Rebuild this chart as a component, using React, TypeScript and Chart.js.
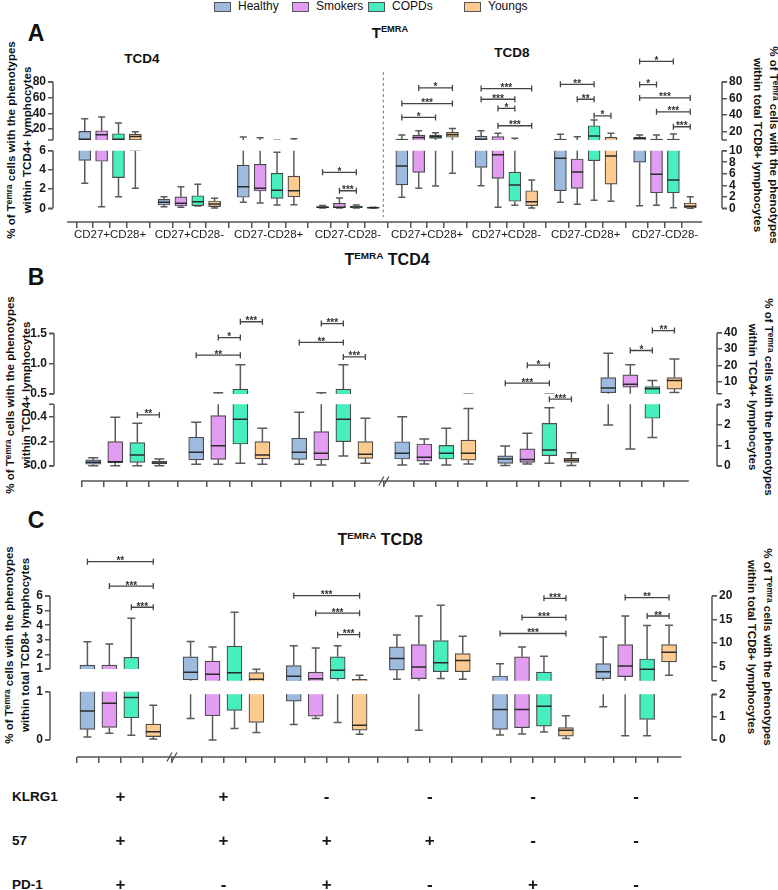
import React, { useEffect, useRef } from 'react';
import { Chart, registerables } from 'chart.js';

Chart.register(...registerables);

const FONT = "'Liberation Sans', Arial, Helvetica, sans-serif";
const NARROW = "'Liberation Sans Narrow', 'Liberation Sans', Arial, sans-serif";
const W = 778;

const seriesNames = ['Healthy', 'Smokers', 'COPDs', 'Youngs'];
const seriesFills = ['#9dbadf', '#e29cf1', '#47efbf', '#fdca8f'];

// ---------------- Panel A : TEMRA (TCD4 on left axis, TCD8 on right axis) ----------------
// each box: [min, q1, median, q3, max]
const groupsA = ['CD27+CD28+', 'CD27+CD28-', 'CD27-CD28+', 'CD27-CD28-', 'CD27+CD28+', 'CD27+CD28-', 'CD27-CD28+', 'CD27-CD28-'];
const sidesA = ['L', 'L', 'L', 'L', 'R', 'R', 'R', 'R'];
const healthyA = [
  [2.6, 5.0, 7, 17, 33], [0.17, 0.34, 0.62, 0.94, 1.2], [0.62, 1.15, 2.25, 4.5, 9.7], [0.02, 0.05, 0.1, 0.17, 0.3],
  [1.9, 4.05, 7.34, 11, 16], [3.9, 7.1, 11, 14.8, 21.2], [1.04, 3.05, 8.7, 11, 16.9], [0.45, 8.0, 12, 13.3, 16],
];
const smokersA = [
  [0.17, 4.9, 12.7, 17.8, 35.5], [0.1, 0.24, 0.52, 1.2, 2.25], [0.55, 1.8, 2.08, 4.58, 8.8], [0.03, 0.05, 0.1, 0.52, 1.07],
  [3.47, 6.25, 13, 16, 21.2], [0.17, 5.2, 9.3, 14, 18], [0.69, 3.47, 6.3, 8.56, 14], [0.52, 2.7, 5.9, 11, 16],
];
const copdsA = [
  [1.2, 3.2, 7, 14, 27.7], [0.24, 0.27, 0.69, 1.31, 2.5], [0.34, 1.04, 1.87, 3.65, 5.83], [0.03, 0.07, 0.14, 0.24, 0.34],
  [3.87, 12, 14, 16, 18.8], [0.52, 1.22, 4.05, 6.3, 12], [1.39, 8.27, 14.8, 27.2, 34], [0.1, 2.7, 4.9, 11, 17.2],
];
const youngsA = [
  [2.1, 6.0, 10.5, 13.6, 16.6], [0.03, 0.17, 0.45, 0.76, 1.04], [0.36, 1.2, 1.82, 3.36, 7.5], [0.02, 0.04, 0.06, 0.09, 0.12],
  [6.07, 13.3, 16.4, 19.3, 24], [0.05, 0.45, 1.15, 3.05, 4.9], [1.22, 4.2, 9.1, 13.3, 18], [0, 0.05, 0.35, 0.92, 2.0],
];
// [group, fromSeries, toSeries, level, stars, segment]
const sigA = [
  [3, 0, 2, 3.75, '*', 'bot'], [3, 1, 2, 1.83, '***', 'bot'],
  [4, 1, 3, 72.8, '*', 'top'], [4, 0, 3, 54, '***', 'top'], [4, 0, 2, 37.3, '*', 'top'],
  [5, 0, 3, 72.1, '***', 'top'], [5, 0, 2, 59.2, '***', 'top'], [5, 1, 2, 48.1, '*', 'top'], [5, 1, 3, 27.2, '***', 'top'],
  [6, 0, 2, 77.2, '**', 'top'], [6, 1, 2, 59.2, '**', 'top'], [6, 2, 3, 39.2, '*', 'top'],
  [7, 0, 2, 104.8, '*', 'top'], [7, 0, 1, 76.9, '*', 'top'], [7, 0, 3, 60.8, '***', 'top'], [7, 1, 3, 44, '***', 'top'], [7, 2, 3, 26, '***', 'top'],
];
const ticksALeftTop = [20, 40, 60, 80];
const ticksALeftBot = [0, 2, 4, 6];
const ticksARightTop = [20, 40, 60, 80];
const ticksARightBot = [0, 2, 4, 6, 8, 10];

// ---------------- Panel B : TEMRA TCD4 subsets ----------------
const sidesB = ['L', 'L', 'L', 'R', 'R', 'R'];
const healthyB = [
  [0.003, 0.014, 0.03, 0.049, 0.067], [0.014, 0.049, 0.111, 0.233, 0.354], [0.014, 0.054, 0.111, 0.225, 0.435],
  [0.05, 0.34, 0.62, 1.18, 2.39], [0.02, 0.13, 0.34, 0.49, 0.97], [1.99, 3.6, 6.4, 12.8, 27.6],
];
const smokersB = [
  [0.003, 0.027, 0.035, 0.197, 0.395], [0.014, 0.054, 0.165, 0.408, 0.52], [0.008, 0.049, 0.103, 0.278, 0.52],
  [0.1, 0.24, 0.42, 1.07, 1.31], [0.1, 0.18, 0.32, 0.83, 1.59], [0.83, 7, 8.8, 14.4, 20.5],
];
const copdsB = [
  [0.003, 0.03, 0.089, 0.19, 0.346], [0.022, 0.178, 0.379, 0.58, 0.98], [0.081, 0.197, 0.379, 0.58, 0.98],
  [0.05, 0.34, 0.62, 1.0, 1.83], [0.13, 0.5, 0.78, 2.07, 2.83], [1.39, 2.32, 6, 7.3, 11],
];
const youngsB = [
  [0.003, 0.016, 0.024, 0.038, 0.057], [0.014, 0.057, 0.089, 0.197, 0.306], [0.022, 0.062, 0.095, 0.197, 0.387],
  [0.1, 0.28, 0.62, 1.26, 2.8], [0.02, 0.18, 0.28, 0.37, 0.65], [3.8, 5.8, 11, 12.8, 24],
];
const sigB = [
  [0, 2, 3, 0.414, '**', 'bot'],
  [1, 0, 2, 1.14, '**', 'top'], [1, 1, 2, 1.43, '*', 'top'], [1, 2, 3, 1.69, '***', 'top'],
  [2, 0, 2, 1.35, '**', 'top'], [2, 1, 2, 1.66, '***', 'top'], [2, 2, 3, 1.11, '***', 'top'],
  [4, 1, 2, 20.3, '*', 'top'], [4, 0, 2, 9.4, '***', 'top'], [4, 2, 3, 3.25, '***', 'bot'],
  [5, 1, 2, 29.2, '*', 'top'], [5, 2, 3, 41.3, '**', 'top'],
];
const ticksBLeftTop = [0.5, 1.0, 1.5];
const ticksBLeftBot = [0, 0.2, 0.4];
const ticksBRightTop = [10, 20, 30, 40];
const ticksBRightBot = [0, 1, 2, 3];

// ---------------- Panel C : TEMRA TCD8 subsets ----------------
const sidesC = ['L', 'R', 'R', 'R', 'R', 'R'];
const healthyC = [
  [0.06, 0.22, 0.6, 1.27, 2.87], [0.94, 2.15, 3.8, 7.06, 10.3], [0.68, 1.7, 2.96, 5.2, 9.4],
  [2.3, 4.24, 6.7, 9.16, 11.7], [0.22, 0.46, 1.33, 3.0, 5.6], [1.45, 2.44, 3.9, 5.6, 11.26],
];
const smokersC = [
  [0.14, 0.26, 0.76, 1.27, 2.71], [0, 1.06, 3.34, 6.13, 9.16], [0.94, 1.04, 2.4, 3.8, 8.95],
  [0.43, 2.44, 4.9, 9.64, 15.7], [0.26, 0.54, 1.33, 7.06, 9.16], [0.19, 2.86, 5.1, 9.64, 15.7],
];
const copdsC = [
  [0.1, 0.46, 0.88, 1.8, 4.47], [0.5, 1.3, 3.7, 9.3, 16.5], [0.77, 2.4, 4.2, 7.06, 9.4],
  [2.44, 3.9, 5.8, 10.5, 18], [0.35, 0.61, 1.48, 3.8, 7.2], [0.19, 0.9, 4.4, 6.6, 13.7],
];
const youngsC = [
  [0.02, 0.07, 0.17, 0.33, 0.72], [0.33, 0.77, 2.3, 3.7, 4.4], [0.25, 0.43, 0.65, 2.3, 3.13],
  [2.3, 3.9, 6.3, 7.75, 11.4], [0.07, 0.17, 0.43, 0.54, 1.06], [3.13, 6.0, 8.0, 9.64, 13.75],
];
const sigC = [
  [0, 0, 3, 8.35, '**', 'top'], [0, 1, 3, 6.68, '***', 'top'], [0, 2, 3, 5.23, '***', 'top'],
  [2, 0, 3, 20, '***', 'top'], [2, 1, 3, 16.3, '***', 'top'], [2, 2, 3, 11.75, '***', 'top'],
  [4, 2, 3, 19.45, '***', 'top'], [4, 1, 3, 15.4, '***', 'top'], [4, 0, 3, 12, '***', 'top'],
  [5, 1, 3, 19.6, '**', 'top'], [5, 2, 3, 15.7, '**', 'top'],
];
const ticksCLeftTop = [1, 2, 3, 4, 5, 6];
const ticksCLeftBot = [0, 1];
const ticksCRightTop = [5, 10, 15, 20];
const ticksCRightBot = [0, 1, 2];
const markerRows = ['KLRG1', '57', 'PD-1'];
const klrg1C = ['+', '+', '-', '-', '-', '-'];
const cd57C = ['+', '+', '+', '+', '-', '-'];
const pd1C = ['+', '-', '+', '-', '+', '-'];

// ---------------- layout (positions only) ----------------
// seg: [lowValue, highValue, pixelOfLow, pixelOfHigh] (page pixels)
const panelA: any = {
  top: 33, height: 217, chartTop: 45, axisY: 222, left: 53, right: 722,
  xFirst: 77, xLast: 698, step: 4.7, boxW: 12, capW: 7, lineFrom: -1.05, lineTo: 0.7,
  seg: { Ltop: [6, 80, 140, 82], Lbot: [0, 6, 208.3, 150.7], Rtop: [10, 80, 140, 82], Rbot: [0, 10, 208.3, 150.7] },
  ticks: { Ltop: ticksALeftTop, Lbot: ticksALeftBot, Rtop: ticksARightTop, Rbot: ticksARightBot },
  dec: { L: 0, R: 0 },
  sides: sidesA, data: [healthyA, smokersA, copdsA, youngsA], sig: sigA,
  xLabels: groupsA, xFont: { family: FONT, size: 11.5, lineHeight: 1 }, xPad: 1.5,
  breakAfter: null, divider: { afterGroup: 3, y0: 72, y1: 217 },
};
const panelB: any = {
  top: 293, height: 207, chartTop: 305, axisY: 481, left: 54, right: 717,
  xFirst: 80.5, xLast: 687, step: 4.67, boxW: 15, capW: 10, lineFrom: -0.55, lineTo: 0.65,
  seg: { Ltop: [0.5, 1.5, 394, 333.3], Lbot: [0, 0.5, 466, 404.3], Rtop: [3, 40, 393.7, 332.7], Rbot: [0, 3, 466, 404.3] },
  ticks: { Ltop: ticksBLeftTop, Lbot: ticksBLeftBot, Rtop: ticksBRightTop, Rbot: ticksBRightBot },
  dec: { L: 1, R: 0 },
  sides: sidesB, data: [healthyB, smokersB, copdsB, youngsB], sig: sigB,
  xLabels: null, xFont: { family: FONT, size: 11 }, xPad: 0,
  breakAfter: 2, divider: null,
};
const panelC: any = {
  top: 538, height: 352, chartTop: 550, axisY: 757, left: 50, right: 712,
  xFirst: 77.3, xLast: 679, step: 4.7, boxW: 15, capW: 8, lineFrom: -0.47, lineTo: 0.56,
  seg: { Ltop: [1, 6, 669, 596], Lbot: [0, 1, 740, 691.7], Rtop: [2, 20, 680.7, 595.7], Rbot: [0, 2, 740, 694.3] },
  ticks: { Ltop: ticksCLeftTop, Lbot: ticksCLeftBot, Rtop: ticksCRightTop, Rbot: ticksCRightBot },
  dec: { L: 0, R: 0 },
  sides: sidesC, data: [healthyC, smokersC, copdsC, youngsC], sig: sigC,
  xLabels: klrg1C.map((k, i) => [k, cd57C[i], pd1C[i]]),
  xFont: { family: FONT, size: 17, weight: 'bold', lineHeight: '44px' }, xPad: 12,
  breakAfter: 0, divider: null,
};

// ---------------- drawing helpers ----------------
function clipRange(chart: any, P: any, side: string, key: string) {
  const ys = chart.scales['y' + side];
  const s = P.seg[side + key];
  const yLo = ys.getPixelForValue(s[0]);
  const yHi = ys.getPixelForValue(s[1]);
  return key === 'top' ? [0, yLo] : [yHi, chart.chartArea.bottom];
}

function eachBox(chart: any, P: any, key: string, fn: any) {
  const xs = chart.scales.x;
  const ctx = chart.ctx;
  for (let s = 0; s < 4; s++) {
    for (let g = 0; g < P.sides.length; g++) {
      const side = P.sides[g];
      const ys = chart.scales['y' + side];
      const [c0, c1] = clipRange(chart, P, side, key);
      ctx.save();
      ctx.beginPath();
      ctx.rect(0, c0, chart.width, c1 - c0);
      ctx.clip();
      fn(ctx, xs.getPixelForValue(g * P.step + s), (v: number) => ys.getPixelForValue(v), P.data[s][g]);
      ctx.restore();
    }
  }
}

function drawWhiskers(chart: any, P: any, key: string) {
  eachBox(chart, P, key, (ctx: any, x: number, py: any, b: number[]) => {
    const c = P.capW / 2;
    ctx.strokeStyle = '#5a5a5a';
    ctx.lineWidth = 1.5;
    ctx.beginPath();
    ctx.moveTo(x, py(b[3])); ctx.lineTo(x, py(b[4]));
    ctx.moveTo(x - c, py(b[4])); ctx.lineTo(x + c, py(b[4]));
    ctx.moveTo(x, py(b[1])); ctx.lineTo(x, py(b[0]));
    ctx.moveTo(x - c, py(b[0])); ctx.lineTo(x + c, py(b[0]));
    ctx.stroke();
  });
}

function drawMedians(chart: any, P: any, key: string) {
  eachBox(chart, P, key, (ctx: any, x: number, py: any, b: number[]) => {
    const h = P.boxW / 2;
    ctx.strokeStyle = '#2a2a2a';
    ctx.lineWidth = 1.5;
    ctx.beginPath();
    ctx.moveTo(x - h, py(b[2])); ctx.lineTo(x + h, py(b[2]));
    ctx.stroke();
  });
}

function drawAxes(chart: any, P: any, key: string) {
  const ctx = chart.ctx;
  const ca = chart.chartArea;
  ctx.save();
  ctx.strokeStyle = '#555';
  ctx.lineWidth = 1.5;
  for (const side of ['L', 'R']) {
    const ys = chart.scales['y' + side];
    const s = P.seg[side + key];
    const x = side === 'L' ? ca.left : ca.right;
    const d = side === 'L' ? -5 : 5;
    const y0 = ys.getPixelForValue(s[0]);
    const y1 = ys.getPixelForValue(s[1]);
    ctx.beginPath();
    ctx.moveTo(x, y0); ctx.lineTo(x, y1);
    ctx.moveTo(x, y0); ctx.lineTo(x + d, y0);
    ctx.moveTo(x, y1); ctx.lineTo(x + d, y1);
    ctx.stroke();
  }
  if (key === 'bot') {
    const xs = chart.scales.x;
    const last = (P.sides.length - 1) * P.step + 3;
    ctx.beginPath();
    ctx.moveTo(xs.getPixelForValue(P.lineFrom), ca.bottom);
    ctx.lineTo(xs.getPixelForValue(last + P.lineTo), ca.bottom);
    ctx.stroke();
    if (P.breakAfter !== null) {
      const g = P.breakAfter;
      const xb = xs.getPixelForValue((g * P.step + 3 + (g + 1) * P.step) / 2);
      ctx.lineWidth = 1.3;
      ctx.beginPath();
      for (const o of [-2.5, 2.5]) {
        ctx.moveTo(xb + o - 2.5, ca.bottom + 4.5);
        ctx.lineTo(xb + o + 2.5, ca.bottom - 4.5);
      }
      ctx.stroke();
    }
    if (P.divider) {
      const xd = xs.getPixelForValue(P.divider.afterGroup * P.step + 3.6);
      ctx.setLineDash([3, 2.5]);
      ctx.lineWidth = 1;
      ctx.strokeStyle = '#777';
      ctx.beginPath();
      ctx.moveTo(xd, P.divider.y0 - P.top);
      ctx.lineTo(xd, P.divider.y1 - P.top);
      ctx.stroke();
    }
  }
  ctx.restore();
}

function drawBrackets(chart: any, P: any, key: string) {
  const ctx = chart.ctx;
  const xs = chart.scales.x;
  ctx.save();
  ctx.strokeStyle = '#444';
  ctx.fillStyle = '#333';
  ctx.lineWidth = 1.3;
  ctx.font = 'bold 10px ' + FONT;
  ctx.textAlign = 'center';
  ctx.textBaseline = 'alphabetic';
  for (const [g, a, b, level, label, part] of P.sig) {
    if (part !== key) continue;
    const ys = chart.scales['y' + P.sides[g]];
    const x1 = xs.getPixelForValue(g * P.step + a);
    const x2 = xs.getPixelForValue(g * P.step + b);
    const y = ys.getPixelForValue(level);
    ctx.beginPath();
    ctx.moveTo(x1, y); ctx.lineTo(x2, y);
    ctx.moveTo(x1, y - 3); ctx.lineTo(x1, y + 3);
    ctx.moveTo(x2, y - 3); ctx.lineTo(x2, y + 3);
    ctx.stroke();
    ctx.fillText(label, (x1 + x2) / 2, y + 2.5);
  }
  ctx.restore();
}

function buildChart(canvas: HTMLCanvasElement, P: any, key: string) {
  const nG = P.sides.length;
  const lastPos = (nG - 1) * P.step + 3;
  const kx = (P.xLast - P.xFirst) / lastPos;
  const xMin = -(P.xFirst - P.left) / kx;
  const xMax = lastPos + (P.right - P.xLast) / kx;
  const boxPos: number[] = [];
  for (let g = 0; g < nG; g++) for (let s = 0; s < 4; s++) boxPos.push(g * P.step + s);
  const centers = P.sides.map((_: any, g: number) => g * P.step + 1.5);
  const xTicks = P.xLabels ? [...boxPos, ...centers] : boxPos;
  const nBox = boxPos.length;
  const xAxisH = P.top + P.height - P.axisY;

  const datasets: any[] = [];
  for (let s = 0; s < 4; s++) {
    for (const side of ['L', 'R']) {
      const pts: any[] = [];
      for (let g = 0; g < nG; g++) {
        if (P.sides[g] !== side) continue;
        const b = P.data[s][g];
        pts.push({ x: g * P.step + s, y: [b[1], b[3]] });
      }
      if (!pts.length) continue;
      const seg = P.seg[side + key];
      const clip = key === 'top'
        ? { left: 0, right: 0, top: false, bottom: -(P.axisY - seg[2]) }
        : { left: 0, right: 0, top: -(seg[3] - P.chartTop), bottom: 0 };
      datasets.push({
        label: seriesNames[s], data: pts, yAxisID: 'y' + side,
        backgroundColor: seriesFills[s], borderColor: '#4a4a4a', borderWidth: 1.2,
        borderSkipped: false, barThickness: P.boxW, grouped: false, clip,
      });
    }
  }

  const yScale = (side: string) => {
    const s = P.seg[side + key];
    const k = (s[2] - s[3]) / (s[1] - s[0]);
    return {
      type: 'linear', axis: 'y', position: side === 'L' ? 'left' : 'right',
      min: s[0] - (P.axisY - s[2]) / k,
      max: s[1] + (s[3] - P.chartTop) / k,
      afterBuildTicks: (sc: any) => { sc.ticks = P.ticks[side + key].map((v: number) => ({ value: v })); },
      afterFit: (sc: any) => { sc.width = side === 'L' ? P.left : W - P.right; },
      border: { display: false },
      grid: { drawOnChartArea: false, tickLength: 5, color: '#555', lineWidth: 1.5 },
      ticks: {
        padding: 2, color: '#1a1a1a', font: { family: FONT, size: 12, weight: 'bold' },
        callback: (v: any) => Number(v).toFixed(P.dec[side]),
      },
    };
  };

  return new Chart(canvas, {
    type: 'bar',
    data: { datasets },
    plugins: [{
      id: 'boxOverlay' + key,
      beforeDatasetsDraw: (chart: any) => drawWhiskers(chart, P, key),
      afterDatasetsDraw: (chart: any) => {
        drawMedians(chart, P, key);
        drawAxes(chart, P, key);
        drawBrackets(chart, P, key);
      },
    }],
    options: {
      responsive: false,
      maintainAspectRatio: false,
      devicePixelRatio: 1,
      animation: false,
      events: [],
      layout: { padding: { top: P.chartTop - P.top, bottom: 0, left: 0, right: 0 } },
      plugins: { legend: { display: false }, tooltip: { enabled: false } },
      scales: {
        x: {
          type: 'linear', min: xMin, max: xMax, display: key === 'bot',
          afterBuildTicks: (sc: any) => { sc.ticks = xTicks.map((v: number) => ({ value: v })); },
          afterFit: (sc: any) => { sc.height = xAxisH; },
          border: { display: false },
          grid: {
            drawOnChartArea: false, tickLength: 6, lineWidth: 1.5,
            color: (c: any) => (c.index < nBox ? '#555' : 'rgba(0,0,0,0)'),
          },
          ticks: {
            autoSkip: false, maxRotation: 0, minRotation: 0, padding: P.xPad, color: '#1a1a1a', font: P.xFont,
            callback: (_v: any, i: number) => (i < nBox || !P.xLabels ? '' : P.xLabels[i - nBox]),
          },
        },
        yL: yScale('L'),
        yR: yScale('R'),
      } as any,
    } as any,
  });
}

function PanelCanvas({ P, part }: any) {
  const ref = useRef<HTMLCanvasElement | null>(null);
  useEffect(() => {
    const c = buildChart(ref.current as HTMLCanvasElement, P, part);
    return () => c.destroy();
  }, []);
  return (
    <canvas ref={ref} width={W} height={P.height}
      style={{ position: 'absolute', left: 0, top: P.top, width: W, height: P.height }} />
  );
}

function Sup({ children, size = '0.62em', lift = '-0.6em' }: any) {
  return <span style={{ fontSize: size, position: 'relative', top: lift }}>{children}</span>;
}

function Text({ x, y, size, bold, children, anchor = 'center', family = FONT }: any) {
  const tx = anchor === 'center' ? '-50%' : anchor === 'left' ? '0' : '-100%';
  return (
    <div style={{
      position: 'absolute', left: x, top: y, transform: `translate(${tx}, -50%)`, fontFamily: family,
      fontSize: size, fontWeight: bold ? 'bold' : 'normal', whiteSpace: 'nowrap', color: '#111', lineHeight: 1.15,
    }}>{children}</div>
  );
}

function VTitle({ x, y, rot, line2 }: any) {
  return (
    <div style={{
      position: 'absolute', left: x, top: y, transform: `translate(-50%, -50%) rotate(${rot}deg)`,
      fontFamily: FONT, fontSize: 11.5, fontWeight: 'bold', lineHeight: '15px', textAlign: 'center',
      whiteSpace: 'nowrap', color: '#111',
    }}>
      <div>% of T<Sup size="0.72em" lift="-0.35em">emra</Sup> cells with the phenotypes</div>
      <div>{line2}</div>
    </div>
  );
}

const legendX = [214, 292, 368, 464];
const rowY = [797, 841, 885];

export default function App() {
  return (
    <div style={{ position: 'absolute', left: 0, top: 0, width: W, height: 890, background: '#fff', overflow: 'hidden' }}>
      {seriesNames.map((n, i) => (
        <React.Fragment key={n}>
          <div style={{ position: 'absolute', left: legendX[i], top: 2, width: 15, height: 8, background: seriesFills[i], border: '1px solid #555' }} />
          <Text x={legendX[i] + 24} y={6.5} size={12} anchor="left">{n}</Text>
        </React.Fragment>
      ))}

      <Text x={36} y={33} size={23} bold>A</Text>
      <Text x={390} y={33} size={15} bold>T<Sup>EMRA</Sup></Text>
      <Text x={142} y={59} size={13.5} bold>TCD4</Text>
      <Text x={512} y={53} size={13.5} bold>TCD8</Text>

      <Text x={36} y={277} size={23} bold>B</Text>
      <Text x={387} y={260} size={16} bold>T<Sup>EMRA</Sup> TCD4</Text>

      <Text x={36} y={520} size={23} bold>C</Text>
      <Text x={380} y={540} size={16} bold>T<Sup>EMRA</Sup> TCD8</Text>

      <VTitle x={18.5} y={140} rot={-90} line2="within TCD4+ lymphocytes" />
      <VTitle x={764.5} y={145} rot={90} line2="within total TCD8+ lymphocytes" />
      <VTitle x={18} y={395} rot={-90} line2="within TCD4+ lymphocytes" />
      <VTitle x={760} y={397} rot={90} line2="within TCD4+ lymphocytes" />
      <VTitle x={17} y={645} rot={-90} line2="within total TCD8+ lymphocytes" />
      <VTitle x={758.5} y={647} rot={90} line2="within total TCD8+ lymphocytes" />

      {markerRows.map((r, i) => (
        <Text key={r} x={12} y={rowY[i]} size={13.5} bold anchor="left" family={NARROW}>{r}</Text>
      ))}

      <PanelCanvas P={panelA} part="top" />
      <PanelCanvas P={panelA} part="bot" />
      <PanelCanvas P={panelB} part="top" />
      <PanelCanvas P={panelB} part="bot" />
      <PanelCanvas P={panelC} part="top" />
      <PanelCanvas P={panelC} part="bot" />
    </div>
  );
}
